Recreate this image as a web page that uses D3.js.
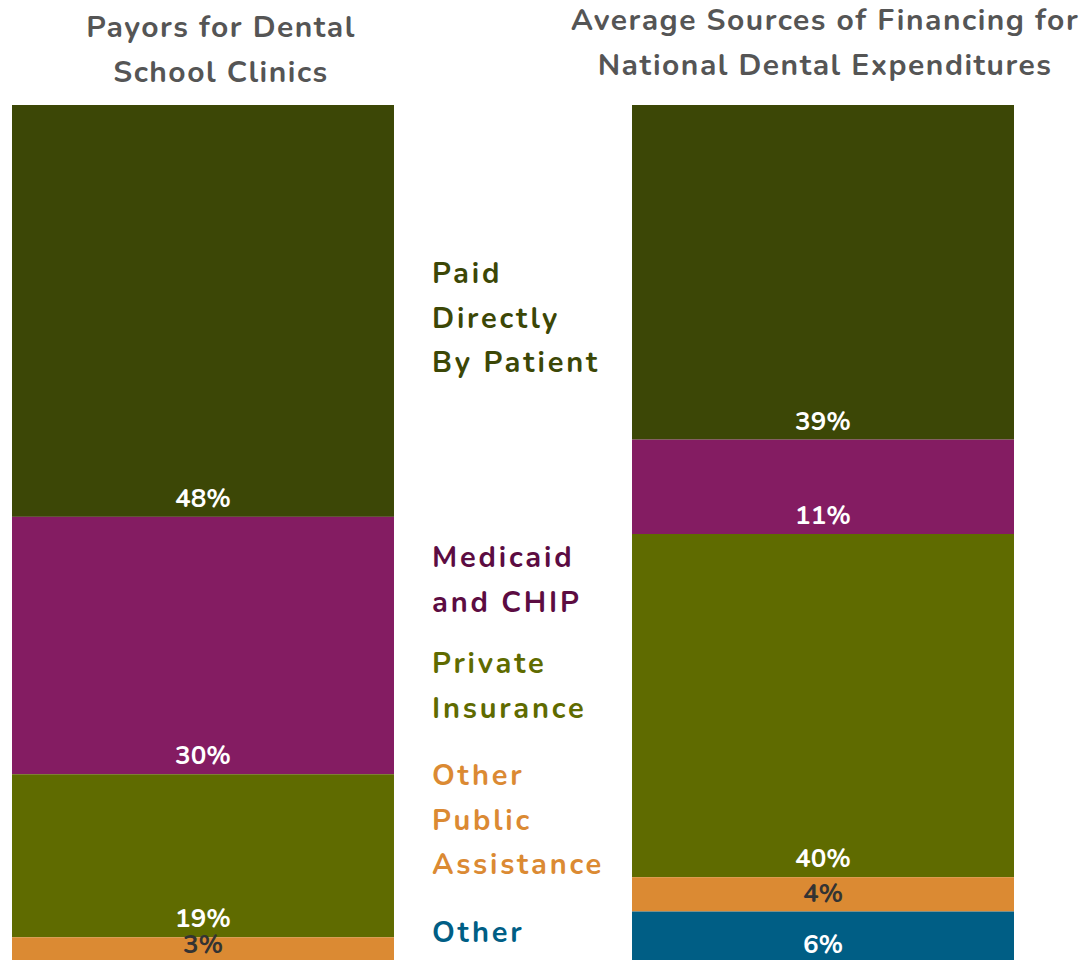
<!DOCTYPE html>
<html>
<head>
<meta charset="utf-8">
<script src="https://cdn.jsdelivr.net/npm/d3@7"></script>
<style>
  html, body { margin: 0; padding: 0; background: #fff; }
  svg { display: block; }
  text { font-family: "Nunito", "Lato", "Open Sans", sans-serif; }
</style>
</head>
<body>
<svg id="chart" width="1089" height="960"></svg>
<script>
// Payor categories, in stacking order (top to bottom)
const categories = ["Paid Directly By Patient", "Medicaid and CHIP", "Private Insurance", "Other Public Assistance", "Other"];
const legendLines = [["Paid", "Directly", "By Patient"], ["Medicaid", "and CHIP"], ["Private", "Insurance"], ["Other", "Public", "Assistance"], ["Other"]];

// Two charts, each a single 100% stacked bar
const charts = ["Payors for Dental School Clinics", "Average Sources of Financing for National Dental Expenditures"];
const chartTitles = [["Payors for Dental", "School Clinics"], ["Average Sources of Financing for", "National Dental Expenditures"]];

// Shares (%) per category, same order as categories
const dentalSchoolClinics = [48, 30, 19, 3, 0];
const nationalExpenditures = [39, 11, 40, 4, 6];

const barColors = ["#3c4706", "#841c62", "#5f6b00", "#db8a33", "#005e85"];
const legendColors = ["#3c4706", "#5c0c42", "#5f6b00", "#db8a33", "#005e85"];

const svg = d3.select("#chart");

const x = d3.scaleBand().domain(charts).range([12, 1014]).paddingInner(0.3839).paddingOuter(0);
const y = d3.scaleLinear().domain([0, 100]).range([105, 963]);
const color = d3.scaleOrdinal().domain(categories).range(barColors);

const series = [dentalSchoolClinics, nationalExpenditures];

series.forEach((vals, i) => {
  const chart = charts[i];
  let cum = 0;
  const segs = categories.map((c, j) => {
    const s = { cat: c, v: vals[j], y0: cum, y1: cum + vals[j] };
    cum += vals[j];
    return s;
  }).filter(s => s.v > 0);

  const g = svg.append("g");
  g.selectAll("rect").data(segs).join("rect")
    .attr("x", x(chart))
    .attr("width", x.bandwidth())
    .attr("y", d => y(d.y0))
    .attr("height", d => y(d.y1) - y(d.y0))
    .attr("fill", d => color(d.cat));

  g.selectAll("text.val").data(segs).join("text")
    .attr("class", "val")
    .attr("x", x(chart) + x.bandwidth() / 2)
    .attr("y", d => y(d.y1) - 10)
    .attr("text-anchor", "middle")
    .attr("font-size", 26)
    .attr("font-weight", 700)
    .attr("fill", d => d.v < 5 ? "#333333" : "#ffffff")
    .text(d => d.v + "%");
});

// Chart titles
const titleCenters = [221, 825];
chartTitles.forEach((lines, i) => {
  const baseline = i === 0 ? 37 : 30;
  svg.append("text")
    .attr("x", titleCenters[i])
    .attr("text-anchor", "middle")
    .attr("font-size", 30)
    .attr("font-weight", 700)
    .attr("letter-spacing", 1.5)
    .attr("fill", "#555555")
    .selectAll("tspan").data(lines).join("tspan")
    .attr("x", titleCenters[i])
    .attr("y", (d, k) => baseline + k * 44.5)
    .text(d => d);
});

// Category legend between the bars
const legendTop = [283, 567, 673, 785, 942];
categories.forEach((c, i) => {
  svg.append("text")
    .attr("font-size", 29)
    .attr("font-weight", 700)
    .attr("letter-spacing", 2.8)
    .attr("fill", legendColors[i])
    .selectAll("tspan").data(legendLines[i]).join("tspan")
    .attr("x", 432)
    .attr("y", (d, k) => legendTop[i] + k * 44.5)
    .text(d => d);
});
</script>
</body>
</html>
